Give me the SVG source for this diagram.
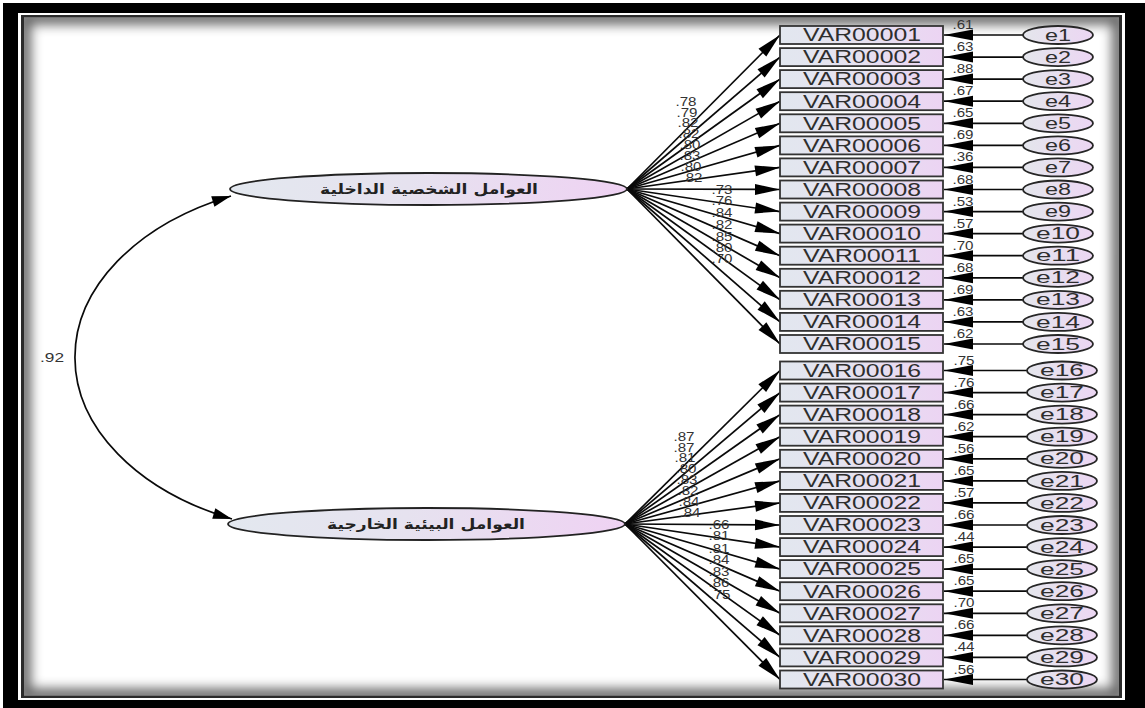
<svg xmlns="http://www.w3.org/2000/svg" width="1145" height="708" viewBox="0 0 1145 708">
  <defs>
    <linearGradient id="gBox" x1="0" y1="0" x2="1" y2="0">
      <stop offset="0" stop-color="#e2e7ef"/>
      <stop offset="0.5" stop-color="#e6e1f0"/>
      <stop offset="1" stop-color="#ecd4f3"/>
    </linearGradient>
    <linearGradient id="gErr" x1="0" y1="0" x2="1" y2="0">
      <stop offset="0" stop-color="#e4e6ec"/>
      <stop offset="1" stop-color="#ecd6f3"/>
    </linearGradient>
    <linearGradient id="gLat" x1="0" y1="0" x2="1" y2="0">
      <stop offset="0" stop-color="#e3e8ef"/>
      <stop offset="0.45" stop-color="#e6e2ef"/>
      <stop offset="1" stop-color="#efd2f3"/>
    </linearGradient>
    <clipPath id="inner">
      <rect x="24" y="17.5" width="1095" height="678"/>
    </clipPath>
    <filter id="soft" x="-5%" y="-5%" width="110%" height="110%">
      <feGaussianBlur stdDeviation="6"/>
    </filter>
    <!-- arrowhead for factor loadings -->
    <marker id="ah" markerUnits="userSpaceOnUse" markerWidth="26" markerHeight="11" refX="25" refY="5.5" orient="auto" overflow="visible">
      <path d="M0,0 L25,5.5 L0,11 z" fill="#000"/>
    </marker>
    <!-- arrowhead for error terms -->
    <marker id="ae" markerUnits="userSpaceOnUse" markerWidth="30" markerHeight="11" refX="29" refY="5.5" orient="auto" overflow="visible">
      <path d="M0,0 L29,5.5 L0,11 z" fill="#000"/>
    </marker>
    <!-- arrowhead for the covariance arc -->
    <marker id="ac" markerUnits="userSpaceOnUse" markerWidth="20" markerHeight="11" refX="19" refY="5.5" orient="auto-start-reverse" overflow="visible">
      <path d="M0,0 L19,5.5 L0,11 z" fill="#000"/>
    </marker>
  </defs>
  <style>
    .box rect { fill: url(#gBox); stroke: #333; stroke-width: 1.8; }
    .box text { font-family: "Liberation Sans", Arial, sans-serif; font-size: 17.5px; fill: #2e2e2e; text-anchor: middle; }
    .err ellipse { fill: url(#gErr); stroke: #262626; stroke-width: 1.8; }
    .err text { font-family: "Liberation Sans", Arial, sans-serif; font-size: 16px; fill: #2e2e2e; text-anchor: middle; }
    .lat ellipse { fill: url(#gLat); stroke: #222; stroke-width: 1.8; }
    .lat text { font-family: "DejaVu Sans", "Noto Sans", sans-serif; font-weight: bold; font-size: 14px; fill: #222; text-anchor: middle; }
    .cn line, .cn path { stroke: #0a0a0a; stroke-width: 1.7; fill: none; }
    .ld line { marker-end: url(#ah); }
    .er line { marker-end: url(#ae); }
    .lbl text { font-family: "Liberation Sans", Arial, sans-serif; font-size: 13px; fill: #333; text-anchor: middle; }
  </style>

  <!-- frame -->
  <rect x="0" y="0" width="1145" height="708" fill="#fff"/>
  <rect x="3" y="3" width="1142" height="705" fill="#000"/>
  <rect x="18" y="13" width="1107" height="687" fill="#fff"/>
  <rect x="21" y="15" width="1101" height="683" fill="#2a2a2a"/>
  <rect x="24" y="17.5" width="1095" height="678" fill="#fff"/>
  <g clip-path="url(#inner)">
    <rect x="24" y="17.5" width="1095" height="678" fill="none" stroke="#000" stroke-width="14" opacity="0.6" filter="url(#soft)"/>
  </g>

  <!-- connectors -->
  <g id="connectors" class="cn">
    <path id="cov" d="M231,196 A265 177 0 0 0 232,519" marker-start="url(#ac)" marker-end="url(#ac)"/>
    <g class="ld">
      <line x1="627" y1="189" x2="780" y2="35"/>
      <line x1="627" y1="189" x2="780" y2="57.1"/>
      <line x1="627" y1="189" x2="780" y2="79.1"/>
      <line x1="627" y1="189" x2="780" y2="101.2"/>
      <line x1="627" y1="189" x2="780" y2="123.3"/>
      <line x1="627" y1="189" x2="780" y2="145.4"/>
      <line x1="627" y1="189" x2="780" y2="167.4"/>
      <line x1="627" y1="189" x2="780" y2="189.5"/>
      <line x1="627" y1="189" x2="780" y2="211.6"/>
      <line x1="627" y1="189" x2="780" y2="233.6"/>
      <line x1="627" y1="189" x2="780" y2="255.7"/>
      <line x1="627" y1="189" x2="780" y2="277.8"/>
      <line x1="627" y1="189" x2="780" y2="299.8"/>
      <line x1="627" y1="189" x2="780" y2="321.9"/>
      <line x1="627" y1="189" x2="780" y2="344"/>
      <line x1="625" y1="524" x2="780" y2="370.5"/>
      <line x1="625" y1="524" x2="780" y2="392.6"/>
      <line x1="625" y1="524" x2="780" y2="414.6"/>
      <line x1="625" y1="524" x2="780" y2="436.7"/>
      <line x1="625" y1="524" x2="780" y2="458.8"/>
      <line x1="625" y1="524" x2="780" y2="480.9"/>
      <line x1="625" y1="524" x2="780" y2="502.9"/>
      <line x1="625" y1="524" x2="780" y2="525"/>
      <line x1="625" y1="524" x2="780" y2="547.1"/>
      <line x1="625" y1="524" x2="780" y2="569.1"/>
      <line x1="625" y1="524" x2="780" y2="591.2"/>
      <line x1="625" y1="524" x2="780" y2="613.3"/>
      <line x1="625" y1="524" x2="780" y2="635.3"/>
      <line x1="625" y1="524" x2="780" y2="657.4"/>
      <line x1="625" y1="524" x2="780" y2="679.5"/>
    </g>
    <g class="er">
      <line x1="1023" y1="35" x2="944" y2="35"/>
      <line x1="1023" y1="57.1" x2="944" y2="57.1"/>
      <line x1="1023" y1="79.1" x2="944" y2="79.1"/>
      <line x1="1023" y1="101.2" x2="944" y2="101.2"/>
      <line x1="1023" y1="123.3" x2="944" y2="123.3"/>
      <line x1="1023" y1="145.4" x2="944" y2="145.4"/>
      <line x1="1023" y1="167.4" x2="944" y2="167.4"/>
      <line x1="1023" y1="189.5" x2="944" y2="189.5"/>
      <line x1="1023" y1="211.6" x2="944" y2="211.6"/>
      <line x1="1023" y1="233.6" x2="944" y2="233.6"/>
      <line x1="1023" y1="255.7" x2="944" y2="255.7"/>
      <line x1="1023" y1="277.8" x2="944" y2="277.8"/>
      <line x1="1023" y1="299.8" x2="944" y2="299.8"/>
      <line x1="1023" y1="321.9" x2="944" y2="321.9"/>
      <line x1="1023" y1="344" x2="944" y2="344"/>
      <line x1="1027" y1="370.5" x2="944" y2="370.5"/>
      <line x1="1027" y1="392.6" x2="944" y2="392.6"/>
      <line x1="1027" y1="414.6" x2="944" y2="414.6"/>
      <line x1="1027" y1="436.7" x2="944" y2="436.7"/>
      <line x1="1027" y1="458.8" x2="944" y2="458.8"/>
      <line x1="1027" y1="480.9" x2="944" y2="480.9"/>
      <line x1="1027" y1="502.9" x2="944" y2="502.9"/>
      <line x1="1027" y1="525" x2="944" y2="525"/>
      <line x1="1027" y1="547.1" x2="944" y2="547.1"/>
      <line x1="1027" y1="569.1" x2="944" y2="569.1"/>
      <line x1="1027" y1="591.2" x2="944" y2="591.2"/>
      <line x1="1027" y1="613.3" x2="944" y2="613.3"/>
      <line x1="1027" y1="635.3" x2="944" y2="635.3"/>
      <line x1="1027" y1="657.4" x2="944" y2="657.4"/>
      <line x1="1027" y1="679.5" x2="944" y2="679.5"/>
    </g>
  </g>

  <!-- latent factors -->
  <g id="F1" class="lat">
    <ellipse cx="428.5" cy="189" rx="198.5" ry="16"/>
    <text x="429" y="194" textLength="218" lengthAdjust="spacingAndGlyphs">العوامل الشخصية الداخلية</text>
  </g>
  <g id="F2" class="lat">
    <ellipse cx="426.5" cy="524" rx="198.5" ry="16"/>
    <text x="426" y="529" textLength="198" lengthAdjust="spacingAndGlyphs">العوامل البيئية الخارجية</text>
  </g>

  <!-- observed variables -->
  <g id="VAR00001" class="box" transform="translate(0,35)"><rect x="780" y="-9" width="163" height="18"/><text x="862" y="6.3" textLength="118" lengthAdjust="spacingAndGlyphs">VAR00001</text></g>
  <g id="VAR00002" class="box" transform="translate(0,57.1)"><rect x="780" y="-9" width="163" height="18"/><text x="862" y="6.3" textLength="118" lengthAdjust="spacingAndGlyphs">VAR00002</text></g>
  <g id="VAR00003" class="box" transform="translate(0,79.1)"><rect x="780" y="-9" width="163" height="18"/><text x="862" y="6.3" textLength="118" lengthAdjust="spacingAndGlyphs">VAR00003</text></g>
  <g id="VAR00004" class="box" transform="translate(0,101.2)"><rect x="780" y="-9" width="163" height="18"/><text x="862" y="6.3" textLength="118" lengthAdjust="spacingAndGlyphs">VAR00004</text></g>
  <g id="VAR00005" class="box" transform="translate(0,123.3)"><rect x="780" y="-9" width="163" height="18"/><text x="862" y="6.3" textLength="118" lengthAdjust="spacingAndGlyphs">VAR00005</text></g>
  <g id="VAR00006" class="box" transform="translate(0,145.4)"><rect x="780" y="-9" width="163" height="18"/><text x="862" y="6.3" textLength="118" lengthAdjust="spacingAndGlyphs">VAR00006</text></g>
  <g id="VAR00007" class="box" transform="translate(0,167.4)"><rect x="780" y="-9" width="163" height="18"/><text x="862" y="6.3" textLength="118" lengthAdjust="spacingAndGlyphs">VAR00007</text></g>
  <g id="VAR00008" class="box" transform="translate(0,189.5)"><rect x="780" y="-9" width="163" height="18"/><text x="862" y="6.3" textLength="118" lengthAdjust="spacingAndGlyphs">VAR00008</text></g>
  <g id="VAR00009" class="box" transform="translate(0,211.6)"><rect x="780" y="-9" width="163" height="18"/><text x="862" y="6.3" textLength="118" lengthAdjust="spacingAndGlyphs">VAR00009</text></g>
  <g id="VAR00010" class="box" transform="translate(0,233.6)"><rect x="780" y="-9" width="163" height="18"/><text x="862" y="6.3" textLength="118" lengthAdjust="spacingAndGlyphs">VAR00010</text></g>
  <g id="VAR00011" class="box" transform="translate(0,255.7)"><rect x="780" y="-9" width="163" height="18"/><text x="862" y="6.3" textLength="118" lengthAdjust="spacingAndGlyphs">VAR00011</text></g>
  <g id="VAR00012" class="box" transform="translate(0,277.8)"><rect x="780" y="-9" width="163" height="18"/><text x="862" y="6.3" textLength="118" lengthAdjust="spacingAndGlyphs">VAR00012</text></g>
  <g id="VAR00013" class="box" transform="translate(0,299.8)"><rect x="780" y="-9" width="163" height="18"/><text x="862" y="6.3" textLength="118" lengthAdjust="spacingAndGlyphs">VAR00013</text></g>
  <g id="VAR00014" class="box" transform="translate(0,321.9)"><rect x="780" y="-9" width="163" height="18"/><text x="862" y="6.3" textLength="118" lengthAdjust="spacingAndGlyphs">VAR00014</text></g>
  <g id="VAR00015" class="box" transform="translate(0,344)"><rect x="780" y="-9" width="163" height="18"/><text x="862" y="6.3" textLength="118" lengthAdjust="spacingAndGlyphs">VAR00015</text></g>
  <g id="VAR00016" class="box" transform="translate(0,370.5)"><rect x="780" y="-9" width="163" height="18"/><text x="862" y="6.3" textLength="118" lengthAdjust="spacingAndGlyphs">VAR00016</text></g>
  <g id="VAR00017" class="box" transform="translate(0,392.6)"><rect x="780" y="-9" width="163" height="18"/><text x="862" y="6.3" textLength="118" lengthAdjust="spacingAndGlyphs">VAR00017</text></g>
  <g id="VAR00018" class="box" transform="translate(0,414.6)"><rect x="780" y="-9" width="163" height="18"/><text x="862" y="6.3" textLength="118" lengthAdjust="spacingAndGlyphs">VAR00018</text></g>
  <g id="VAR00019" class="box" transform="translate(0,436.7)"><rect x="780" y="-9" width="163" height="18"/><text x="862" y="6.3" textLength="118" lengthAdjust="spacingAndGlyphs">VAR00019</text></g>
  <g id="VAR00020" class="box" transform="translate(0,458.8)"><rect x="780" y="-9" width="163" height="18"/><text x="862" y="6.3" textLength="118" lengthAdjust="spacingAndGlyphs">VAR00020</text></g>
  <g id="VAR00021" class="box" transform="translate(0,480.9)"><rect x="780" y="-9" width="163" height="18"/><text x="862" y="6.3" textLength="118" lengthAdjust="spacingAndGlyphs">VAR00021</text></g>
  <g id="VAR00022" class="box" transform="translate(0,502.9)"><rect x="780" y="-9" width="163" height="18"/><text x="862" y="6.3" textLength="118" lengthAdjust="spacingAndGlyphs">VAR00022</text></g>
  <g id="VAR00023" class="box" transform="translate(0,525)"><rect x="780" y="-9" width="163" height="18"/><text x="862" y="6.3" textLength="118" lengthAdjust="spacingAndGlyphs">VAR00023</text></g>
  <g id="VAR00024" class="box" transform="translate(0,547.1)"><rect x="780" y="-9" width="163" height="18"/><text x="862" y="6.3" textLength="118" lengthAdjust="spacingAndGlyphs">VAR00024</text></g>
  <g id="VAR00025" class="box" transform="translate(0,569.1)"><rect x="780" y="-9" width="163" height="18"/><text x="862" y="6.3" textLength="118" lengthAdjust="spacingAndGlyphs">VAR00025</text></g>
  <g id="VAR00026" class="box" transform="translate(0,591.2)"><rect x="780" y="-9" width="163" height="18"/><text x="862" y="6.3" textLength="118" lengthAdjust="spacingAndGlyphs">VAR00026</text></g>
  <g id="VAR00027" class="box" transform="translate(0,613.3)"><rect x="780" y="-9" width="163" height="18"/><text x="862" y="6.3" textLength="118" lengthAdjust="spacingAndGlyphs">VAR00027</text></g>
  <g id="VAR00028" class="box" transform="translate(0,635.3)"><rect x="780" y="-9" width="163" height="18"/><text x="862" y="6.3" textLength="118" lengthAdjust="spacingAndGlyphs">VAR00028</text></g>
  <g id="VAR00029" class="box" transform="translate(0,657.4)"><rect x="780" y="-9" width="163" height="18"/><text x="862" y="6.3" textLength="118" lengthAdjust="spacingAndGlyphs">VAR00029</text></g>
  <g id="VAR00030" class="box" transform="translate(0,679.5)"><rect x="780" y="-9" width="163" height="18"/><text x="862" y="6.3" textLength="118" lengthAdjust="spacingAndGlyphs">VAR00030</text></g>

  <!-- error terms -->
  <g id="e1" class="err" transform="translate(1058,35)"><ellipse rx="35" ry="9"/><text y="5.6" textLength="26" lengthAdjust="spacingAndGlyphs">e1</text></g>
  <g id="e2" class="err" transform="translate(1058,57.1)"><ellipse rx="35" ry="9"/><text y="5.6" textLength="26" lengthAdjust="spacingAndGlyphs">e2</text></g>
  <g id="e3" class="err" transform="translate(1058,79.1)"><ellipse rx="35" ry="9"/><text y="5.6" textLength="26" lengthAdjust="spacingAndGlyphs">e3</text></g>
  <g id="e4" class="err" transform="translate(1058,101.2)"><ellipse rx="35" ry="9"/><text y="5.6" textLength="26" lengthAdjust="spacingAndGlyphs">e4</text></g>
  <g id="e5" class="err" transform="translate(1058,123.3)"><ellipse rx="35" ry="9"/><text y="5.6" textLength="26" lengthAdjust="spacingAndGlyphs">e5</text></g>
  <g id="e6" class="err" transform="translate(1058,145.4)"><ellipse rx="35" ry="9"/><text y="5.6" textLength="26" lengthAdjust="spacingAndGlyphs">e6</text></g>
  <g id="e7" class="err" transform="translate(1058,167.4)"><ellipse rx="35" ry="9"/><text y="5.6" textLength="26" lengthAdjust="spacingAndGlyphs">e7</text></g>
  <g id="e8" class="err" transform="translate(1058,189.5)"><ellipse rx="35" ry="9"/><text y="5.6" textLength="26" lengthAdjust="spacingAndGlyphs">e8</text></g>
  <g id="e9" class="err" transform="translate(1058,211.6)"><ellipse rx="35" ry="9"/><text y="5.6" textLength="26" lengthAdjust="spacingAndGlyphs">e9</text></g>
  <g id="e10" class="err" transform="translate(1058,233.6)"><ellipse rx="35" ry="9"/><text y="5.6" textLength="44" lengthAdjust="spacingAndGlyphs">e10</text></g>
  <g id="e11" class="err" transform="translate(1058,255.7)"><ellipse rx="35" ry="9"/><text y="5.6" textLength="44" lengthAdjust="spacingAndGlyphs">e11</text></g>
  <g id="e12" class="err" transform="translate(1058,277.8)"><ellipse rx="35" ry="9"/><text y="5.6" textLength="44" lengthAdjust="spacingAndGlyphs">e12</text></g>
  <g id="e13" class="err" transform="translate(1058,299.8)"><ellipse rx="35" ry="9"/><text y="5.6" textLength="44" lengthAdjust="spacingAndGlyphs">e13</text></g>
  <g id="e14" class="err" transform="translate(1058,321.9)"><ellipse rx="35" ry="9"/><text y="5.6" textLength="44" lengthAdjust="spacingAndGlyphs">e14</text></g>
  <g id="e15" class="err" transform="translate(1058,344)"><ellipse rx="35" ry="9"/><text y="5.6" textLength="44" lengthAdjust="spacingAndGlyphs">e15</text></g>
  <g id="e16" class="err" transform="translate(1062,370.5)"><ellipse rx="35" ry="9"/><text y="5.6" textLength="44" lengthAdjust="spacingAndGlyphs">e16</text></g>
  <g id="e17" class="err" transform="translate(1062,392.6)"><ellipse rx="35" ry="9"/><text y="5.6" textLength="44" lengthAdjust="spacingAndGlyphs">e17</text></g>
  <g id="e18" class="err" transform="translate(1062,414.6)"><ellipse rx="35" ry="9"/><text y="5.6" textLength="44" lengthAdjust="spacingAndGlyphs">e18</text></g>
  <g id="e19" class="err" transform="translate(1062,436.7)"><ellipse rx="35" ry="9"/><text y="5.6" textLength="44" lengthAdjust="spacingAndGlyphs">e19</text></g>
  <g id="e20" class="err" transform="translate(1062,458.8)"><ellipse rx="35" ry="9"/><text y="5.6" textLength="44" lengthAdjust="spacingAndGlyphs">e20</text></g>
  <g id="e21" class="err" transform="translate(1062,480.9)"><ellipse rx="35" ry="9"/><text y="5.6" textLength="44" lengthAdjust="spacingAndGlyphs">e21</text></g>
  <g id="e22" class="err" transform="translate(1062,502.9)"><ellipse rx="35" ry="9"/><text y="5.6" textLength="44" lengthAdjust="spacingAndGlyphs">e22</text></g>
  <g id="e23" class="err" transform="translate(1062,525)"><ellipse rx="35" ry="9"/><text y="5.6" textLength="44" lengthAdjust="spacingAndGlyphs">e23</text></g>
  <g id="e24" class="err" transform="translate(1062,547.1)"><ellipse rx="35" ry="9"/><text y="5.6" textLength="44" lengthAdjust="spacingAndGlyphs">e24</text></g>
  <g id="e25" class="err" transform="translate(1062,569.1)"><ellipse rx="35" ry="9"/><text y="5.6" textLength="44" lengthAdjust="spacingAndGlyphs">e25</text></g>
  <g id="e26" class="err" transform="translate(1062,591.2)"><ellipse rx="35" ry="9"/><text y="5.6" textLength="44" lengthAdjust="spacingAndGlyphs">e26</text></g>
  <g id="e27" class="err" transform="translate(1062,613.3)"><ellipse rx="35" ry="9"/><text y="5.6" textLength="44" lengthAdjust="spacingAndGlyphs">e27</text></g>
  <g id="e28" class="err" transform="translate(1062,635.3)"><ellipse rx="35" ry="9"/><text y="5.6" textLength="44" lengthAdjust="spacingAndGlyphs">e28</text></g>
  <g id="e29" class="err" transform="translate(1062,657.4)"><ellipse rx="35" ry="9"/><text y="5.6" textLength="44" lengthAdjust="spacingAndGlyphs">e29</text></g>
  <g id="e30" class="err" transform="translate(1062,679.5)"><ellipse rx="35" ry="9"/><text y="5.6" textLength="44" lengthAdjust="spacingAndGlyphs">e30</text></g>

  <!-- path estimates -->
  <g id="estimates" class="lbl">
    <text x="52" y="362" textLength="24" lengthAdjust="spacingAndGlyphs">.92</text>
    <!-- loadings, first factor -->
    <text x="686" y="105.5" textLength="21" lengthAdjust="spacingAndGlyphs">.78</text>
    <text x="687" y="116.5" textLength="21" lengthAdjust="spacingAndGlyphs">.79</text>
    <text x="688" y="126.5" textLength="21" lengthAdjust="spacingAndGlyphs">.82</text>
    <text x="689" y="137.5" textLength="21" lengthAdjust="spacingAndGlyphs">.82</text>
    <text x="690" y="148.5" textLength="21" lengthAdjust="spacingAndGlyphs">.80</text>
    <text x="690" y="159.5" textLength="21" lengthAdjust="spacingAndGlyphs">.83</text>
    <text x="691" y="170.5" textLength="21" lengthAdjust="spacingAndGlyphs">.80</text>
    <text x="692" y="181.5" textLength="21" lengthAdjust="spacingAndGlyphs">.82</text>
    <text x="722" y="193.5" textLength="21" lengthAdjust="spacingAndGlyphs">.73</text>
    <text x="722" y="204.5" textLength="21" lengthAdjust="spacingAndGlyphs">.76</text>
    <text x="722" y="216.5" textLength="21" lengthAdjust="spacingAndGlyphs">.84</text>
    <text x="722" y="228.5" textLength="21" lengthAdjust="spacingAndGlyphs">.82</text>
    <text x="722" y="240.5" textLength="21" lengthAdjust="spacingAndGlyphs">.85</text>
    <text x="722" y="251.5" textLength="21" lengthAdjust="spacingAndGlyphs">.80</text>
    <text x="722" y="262.5" textLength="21" lengthAdjust="spacingAndGlyphs">.70</text>
    <!-- loadings, second factor -->
    <text x="684" y="440.5" textLength="21" lengthAdjust="spacingAndGlyphs">.87</text>
    <text x="684" y="451.5" textLength="21" lengthAdjust="spacingAndGlyphs">.87</text>
    <text x="685" y="461.5" textLength="21" lengthAdjust="spacingAndGlyphs">.81</text>
    <text x="686" y="472.5" textLength="21" lengthAdjust="spacingAndGlyphs">.80</text>
    <text x="687" y="483.5" textLength="21" lengthAdjust="spacingAndGlyphs">.83</text>
    <text x="688" y="494.5" textLength="21" lengthAdjust="spacingAndGlyphs">.82</text>
    <text x="689" y="505.5" textLength="21" lengthAdjust="spacingAndGlyphs">.84</text>
    <text x="690" y="516.5" textLength="21" lengthAdjust="spacingAndGlyphs">.84</text>
    <text x="719" y="528.5" textLength="21" lengthAdjust="spacingAndGlyphs">.66</text>
    <text x="719" y="539.5" textLength="21" lengthAdjust="spacingAndGlyphs">.81</text>
    <text x="719" y="552.5" textLength="21" lengthAdjust="spacingAndGlyphs">.81</text>
    <text x="719" y="563.5" textLength="21" lengthAdjust="spacingAndGlyphs">.84</text>
    <text x="719" y="575.5" textLength="21" lengthAdjust="spacingAndGlyphs">.83</text>
    <text x="719" y="586.5" textLength="21" lengthAdjust="spacingAndGlyphs">.86</text>
    <text x="720" y="598.5" textLength="21" lengthAdjust="spacingAndGlyphs">.75</text>
    <!-- squared multiple correlations -->
    <text x="963" y="29" textLength="21" lengthAdjust="spacingAndGlyphs">.61</text>
    <text x="963" y="51.1" textLength="21" lengthAdjust="spacingAndGlyphs">.63</text>
    <text x="963" y="73.1" textLength="21" lengthAdjust="spacingAndGlyphs">.88</text>
    <text x="963" y="95.2" textLength="21" lengthAdjust="spacingAndGlyphs">.67</text>
    <text x="963" y="117.3" textLength="21" lengthAdjust="spacingAndGlyphs">.65</text>
    <text x="963" y="139.4" textLength="21" lengthAdjust="spacingAndGlyphs">.69</text>
    <text x="963" y="161.4" textLength="21" lengthAdjust="spacingAndGlyphs">.36</text>
    <text x="963" y="183.5" textLength="21" lengthAdjust="spacingAndGlyphs">.68</text>
    <text x="963" y="205.6" textLength="21" lengthAdjust="spacingAndGlyphs">.53</text>
    <text x="963" y="227.6" textLength="21" lengthAdjust="spacingAndGlyphs">.57</text>
    <text x="963" y="249.7" textLength="21" lengthAdjust="spacingAndGlyphs">.70</text>
    <text x="963" y="271.8" textLength="21" lengthAdjust="spacingAndGlyphs">.68</text>
    <text x="963" y="293.8" textLength="21" lengthAdjust="spacingAndGlyphs">.69</text>
    <text x="963" y="315.9" textLength="21" lengthAdjust="spacingAndGlyphs">.63</text>
    <text x="963" y="338" textLength="21" lengthAdjust="spacingAndGlyphs">.62</text>
    <text x="964" y="364.5" textLength="21" lengthAdjust="spacingAndGlyphs">.75</text>
    <text x="964" y="386.6" textLength="21" lengthAdjust="spacingAndGlyphs">.76</text>
    <text x="964" y="408.6" textLength="21" lengthAdjust="spacingAndGlyphs">.66</text>
    <text x="964" y="430.7" textLength="21" lengthAdjust="spacingAndGlyphs">.62</text>
    <text x="964" y="452.8" textLength="21" lengthAdjust="spacingAndGlyphs">.56</text>
    <text x="964" y="474.9" textLength="21" lengthAdjust="spacingAndGlyphs">.65</text>
    <text x="964" y="496.9" textLength="21" lengthAdjust="spacingAndGlyphs">.57</text>
    <text x="964" y="519" textLength="21" lengthAdjust="spacingAndGlyphs">.66</text>
    <text x="964" y="541.1" textLength="21" lengthAdjust="spacingAndGlyphs">.44</text>
    <text x="964" y="563.1" textLength="21" lengthAdjust="spacingAndGlyphs">.65</text>
    <text x="964" y="585.2" textLength="21" lengthAdjust="spacingAndGlyphs">.65</text>
    <text x="964" y="607.3" textLength="21" lengthAdjust="spacingAndGlyphs">.70</text>
    <text x="964" y="629.3" textLength="21" lengthAdjust="spacingAndGlyphs">.66</text>
    <text x="964" y="651.4" textLength="21" lengthAdjust="spacingAndGlyphs">.44</text>
    <text x="964" y="673.5" textLength="21" lengthAdjust="spacingAndGlyphs">.56</text>
  </g>
</svg>
